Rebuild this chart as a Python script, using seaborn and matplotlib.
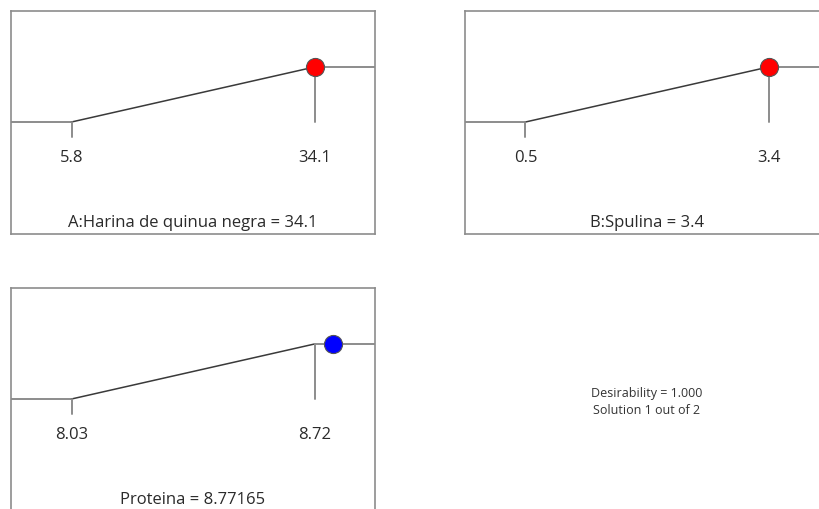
import matplotlib
matplotlib.use("Agg")
import matplotlib.pyplot as plt
import seaborn as sns
import pandas as pd

# ---- data ----
factor_names = ["A:Harina de quinua negra", "B:Spulina", "Proteina"]
low_values = [5.8, 0.5, 8.03]
high_values = [34.1, 3.4, 8.72]
current_values = [34.1, 3.4, 8.77165]
low_labels = ["5.8", "0.5", "8.03"]
high_labels = ["34.1", "3.4", "8.72"]
current_labels = ["34.1", "3.4", "8.77165"]
marker_colors = ["#ff0000", "#ff0000", "#0000ff"]
desirability_text = "Desirability = 1.000"
solution_text = "Solution 1 out of 2"

sns.set_style("white")
plt.rcParams["font.family"] = ["Open Sans", "DejaVu Sans"]

W, H = 820, 510
fig = plt.figure(figsize=(W / 100, H / 100), dpi=100)

# panel boxes in pixels (left, top, width, height)
boxes = [(11, 12, 364, 223), (465, 12, 364, 223), (11, 289, 364, 223)]

GREY = "#8c8c8c"
DARK = "#3a3a3a"
TXT = "#2a2a2a"
FS = 12

for i, (l, t, w, h) in enumerate(boxes):
    ax = fig.add_axes([l / W, 1 - (t + h) / H, w / W, h / H])
    lo, hi, cur = low_values[i], high_values[i], current_values[i]
    rng = hi - lo
    xmin = lo - 60.5 / 243 * rng
    xmax = xmin + w / 243 * rng
    # y: desirability 0 at 111px from top, 1 at 56px from top
    ppu = 55.0
    ymax = 1 + 56 / ppu
    ymin = -(h - 111) / ppu

    flat_lo = pd.DataFrame({"x": [xmin, lo], "d": [0, 0]})
    ramp = pd.DataFrame({"x": [lo, hi], "d": [0, 1]})
    flat_hi = pd.DataFrame({"x": [hi, xmax], "d": [1, 1]})
    vline = pd.DataFrame({"x": [hi, hi], "d": [1, 0]})
    tick = pd.DataFrame({"x": [lo, lo], "d": [0, -15 / ppu]})

    kw = dict(x="x", y="d", ax=ax, sort=False, estimator=None)
    sns.lineplot(data=flat_lo, color=GREY, lw=1.4, **kw)
    sns.lineplot(data=ramp, color=DARK, lw=1.1, **kw)
    sns.lineplot(data=flat_hi, color=GREY, lw=1.4, **kw)
    sns.lineplot(data=vline, color=GREY, lw=1.4, **kw)
    sns.lineplot(data=tick, color=GREY, lw=1.4, **kw)

    pt = pd.DataFrame({"x": [cur], "d": [1.0 + 0.5 / ppu]})
    sns.scatterplot(data=pt, x="x", y="d", ax=ax, color=marker_colors[i], s=170,
                    edgecolor="#555555", linewidth=0.8, zorder=5, clip_on=False)

    ax.text(lo, -35 / ppu, low_labels[i], ha="center", va="center", fontsize=FS, color=TXT)
    ax.text(hi, -35 / ppu, high_labels[i], ha="center", va="center", fontsize=FS, color=TXT)
    ax.text(xmin + (xmax - xmin) * 0.5, -100 / ppu, f"{factor_names[i]} = {current_labels[i]}",
            ha="center", va="center", fontsize=FS, color=TXT)

    ax.set_xlim(xmin, xmax)
    ax.set_ylim(ymin, ymax)
    ax.set_xticks([])
    ax.set_yticks([])
    ax.set_xlabel("")
    ax.set_ylabel("")
    for s in ax.spines.values():
        s.set_color(GREY)
        s.set_linewidth(1.2)
        s.set_visible(True)

fig.text(647 / W, 1 - 393 / H, desirability_text, ha="center", va="center", fontsize=9, color="#333333")
fig.text(647 / W, 1 - 410 / H, solution_text, ha="center", va="center", fontsize=9, color="#333333")

fig.savefig("out.png", dpi=100)
